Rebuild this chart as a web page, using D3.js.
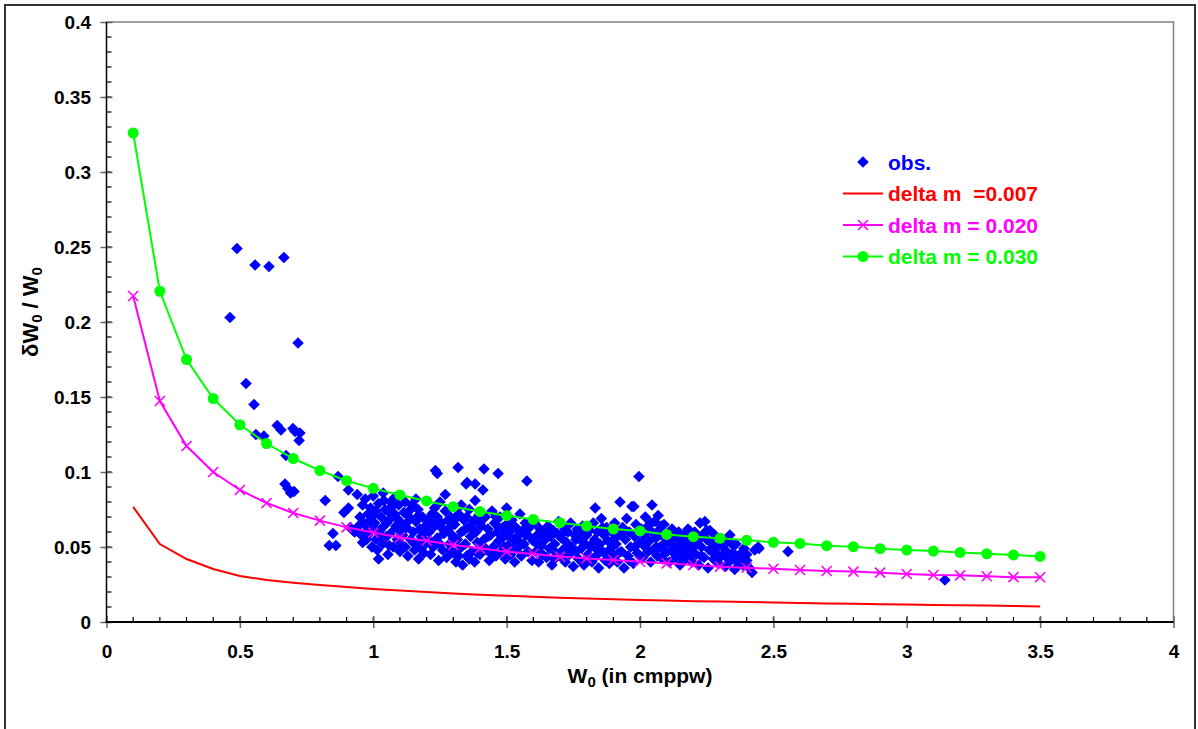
<!DOCTYPE html>
<html><head><meta charset="utf-8">
<script src="https://cdn.jsdelivr.net/npm/d3@7"></script>
<style>html,body{margin:0;padding:0;background:#fff;}svg{display:block;font-family:"Liberation Sans",Arial,sans-serif;}</style>
</head><body>
<svg id="chart" width="1198" height="729"></svg>
<script>
// ---------- data ----------
const xTickValues = [0, 0.5, 1, 1.5, 2, 2.5, 3, 3.5, 4];
const xTickLabels = ["0", "0.5", "1", "1.5", "2", "2.5", "3", "3.5", "4"];
const yTickValues = [0, 0.05, 0.1, 0.15, 0.2, 0.25, 0.3, 0.35, 0.4];
const yTickLabels = ["0", "0.05", "0.1", "0.15", "0.2", "0.25", "0.3", "0.35", "0.4"];

const curveX = [0.1,0.2,0.3,0.4,0.5,0.6,0.7,0.8,0.9,1.0,1.1,1.2,1.3,1.4,1.5,1.6,1.7,1.8,1.9,2.0,
  2.1,2.2,2.3,2.4,2.5,2.6,2.7,2.8,2.9,3.0,3.1,3.2,3.3,3.4,3.5];
const dm007 = [0.0767,0.052,0.042,0.0353,0.0307,0.028,0.0262,0.0247,0.0233,0.022,0.021,0.02,0.019,0.0182,
  0.0175,0.0168,0.0162,0.0157,0.0152,0.0147,0.0143,0.0139,0.0136,0.0133,0.013,0.0127,0.0124,0.0121,0.0119,
  0.0116,0.0114,0.0112,0.011,0.0107,0.0104];
const dm020 = [0.2173,0.1473,0.1173,0.1,0.088,0.0793,0.0727,0.0676,0.0631,0.0596,0.0564,0.0542,0.0513,0.0491,
  0.0469,0.0453,0.0436,0.0424,0.0413,0.0402,0.0391,0.038,0.0369,0.0362,0.0355,0.0347,0.034,0.0336,0.0329,
  0.032,0.0313,0.0311,0.0305,0.0299,0.0298];
const dm030 = [0.326,0.2205,0.175,0.149,0.1315,0.119,0.109,0.101,0.0942,0.0891,0.0847,0.0807,0.0769,0.0736,
  0.0709,0.0684,0.0662,0.064,0.062,0.0607,0.0584,0.0569,0.0558,0.0545,0.0531,0.0524,0.0509,0.0502,0.0489,
  0.048,0.0473,0.0464,0.0455,0.0447,0.0437];

const obs = [
 [0.463,0.203],[0.489,0.249],[0.523,0.159],[0.553,0.145],[0.557,0.238],[0.56,0.125],[0.59,0.124],[0.609,0.237],
 [0.64,0.131],[0.654,0.128],[0.665,0.243],[0.673,0.111],[0.669,0.092],[0.68,0.089],[0.69,0.086],[0.699,0.129],
 [0.703,0.087],[0.707,0.127],[0.718,0.186],[0.722,0.121],[0.725,0.126],
 [0.82,0.081],[0.835,0.051],[0.849,0.059],[0.86,0.051],[0.868,0.097],[0.89,0.073],[0.907,0.088],[0.913,0.063],
 [0.93,0.06],[0.907,0.076],[0.925,0.061],
 [0.94,0.085],[0.95,0.07],[0.955,0.058],[0.96,0.078],[0.965,0.066],[0.97,0.082],[0.975,0.055],[0.98,0.072],
 [0.985,0.062],[0.99,0.076],[0.995,0.05],[0.945,0.064],[0.96,0.053],[0.97,0.06],[0.99,0.068],
 [1.0,0.084],[1.005,0.066],[1.01,0.055],[1.01,0.074],[1.015,0.048],[1.02,0.079],[1.025,0.061],[1.03,0.07],
 [1.035,0.052],[1.037,0.086],[1.04,0.064],[1.045,0.075],[1.05,0.057],[1.055,0.045],[1.06,0.068],[1.065,0.08],
 [1.07,0.06],[1.075,0.05],[1.08,0.072],[1.085,0.064],[1.09,0.055],[1.095,0.078],[1.1,0.047],[1.02,0.042],
 [1.06,0.073],[1.08,0.083],
 [1.105,0.066],[1.11,0.058],[1.115,0.073],[1.12,0.05],[1.125,0.063],[1.13,0.044],[1.135,0.07],[1.14,0.055],
 [1.145,0.078],[1.15,0.06],[1.155,0.048],[1.16,0.067],[1.165,0.052],[1.168,0.075],[1.17,0.042],[1.175,0.062],
 [1.18,0.057],[1.185,0.07],[1.19,0.046],[1.195,0.064],[1.12,0.08],[1.16,0.082],
 [1.2,0.053],[1.205,0.068],[1.21,0.06],[1.215,0.045],[1.22,0.072],[1.225,0.05],[1.23,0.064],[1.233,0.101],
 [1.24,0.099],[1.24,0.056],[1.245,0.041],[1.25,0.08],[1.255,0.066],[1.26,0.048],[1.265,0.059],[1.27,0.074],
 [1.275,0.043],[1.28,0.062],[1.285,0.052],[1.29,0.07],[1.295,0.058],[1.3,0.046],[1.23,0.076],[1.27,0.085],
 [1.305,0.065],[1.31,0.04],[1.315,0.055],[1.318,0.103],[1.32,0.072],[1.325,0.049],[1.33,0.06],[1.335,0.038],
 [1.34,0.068],[1.345,0.052],[1.348,0.092],[1.35,0.044],[1.352,0.093],[1.355,0.063],[1.36,0.075],[1.365,0.057],
 [1.37,0.047],[1.375,0.067],[1.38,0.04],[1.382,0.092],[1.385,0.06],[1.39,0.053],[1.395,0.071],[1.4,0.045],
 [1.382,0.081],[1.33,0.078],
 [1.405,0.064],[1.411,0.088],[1.415,0.102],[1.415,0.055],[1.42,0.07],[1.425,0.048],[1.43,0.062],[1.435,0.041],
 [1.44,0.058],[1.445,0.074],[1.45,0.05],[1.455,0.066],[1.46,0.044],[1.465,0.06],[1.468,0.099],[1.47,0.054],
 [1.475,0.07],[1.48,0.047],[1.485,0.063],[1.49,0.057],[1.495,0.042],[1.5,0.076],[1.5,0.065],
 [1.505,0.051],[1.51,0.06],[1.515,0.045],[1.52,0.068],[1.525,0.055],[1.53,0.04],[1.535,0.063],[1.54,0.049],
 [1.545,0.058],[1.55,0.072],[1.555,0.044],[1.56,0.061],[1.565,0.052],[1.57,0.066],[1.576,0.094],[1.58,0.047],
 [1.585,0.057],[1.59,0.064],[1.595,0.041],[1.6,0.054],
 [1.605,0.066],[1.61,0.047],[1.615,0.058],[1.62,0.04],[1.625,0.062],[1.63,0.051],[1.635,0.045],[1.64,0.06],
 [1.645,0.055],[1.65,0.043],[1.655,0.064],[1.66,0.049],[1.665,0.057],[1.67,0.038],[1.675,0.061],[1.68,0.052],
 [1.685,0.046],[1.69,0.059],[1.695,0.067],[1.7,0.044],
 [1.705,0.056],[1.71,0.048],[1.715,0.063],[1.72,0.04],[1.725,0.053],[1.73,0.06],[1.735,0.045],[1.74,0.066],
 [1.745,0.05],[1.75,0.037],[1.755,0.058],[1.76,0.047],[1.765,0.062],[1.77,0.042],[1.775,0.055],[1.78,0.049],
 [1.785,0.064],[1.79,0.038],[1.795,0.052],[1.8,0.058],
 [1.805,0.045],[1.81,0.061],[1.815,0.05],[1.82,0.04],[1.825,0.066],[1.83,0.055],[1.832,0.076],[1.835,0.044],
 [1.84,0.06],[1.845,0.036],[1.85,0.052],[1.855,0.069],[1.86,0.047],[1.865,0.058],[1.87,0.041],[1.875,0.063],
 [1.88,0.054],[1.885,0.039],[1.89,0.049],[1.895,0.06],[1.9,0.045],
 [1.905,0.066],[1.91,0.052],[1.915,0.04],[1.92,0.058],[1.925,0.08],[1.93,0.047],[1.935,0.063],[1.94,0.036],
 [1.945,0.055],[1.95,0.069],[1.955,0.044],[1.96,0.06],[1.965,0.05],[1.97,0.077],[1.975,0.039],[1.98,0.057],
 [1.985,0.065],[1.99,0.046],[1.996,0.097],[2.0,0.053],[1.977,0.077],
 [2.005,0.062],[2.01,0.043],[2.015,0.058],[2.02,0.07],[2.025,0.049],[2.03,0.064],[2.035,0.054],[2.04,0.04],
 [2.045,0.078],[2.045,0.06],[2.05,0.047],[2.055,0.067],[2.06,0.056],[2.065,0.044],[2.068,0.071],[2.07,0.061],
 [2.075,0.05],[2.08,0.058],[2.085,0.042],[2.09,0.065],[2.095,0.053],[2.1,0.047],
 [2.105,0.058],[2.11,0.04],[2.115,0.052],[2.12,0.062],[2.125,0.046],[2.13,0.056],[2.135,0.043],[2.14,0.05],
 [2.145,0.06],[2.15,0.038],[2.155,0.054],[2.16,0.047],[2.165,0.058],[2.17,0.042],[2.175,0.051],[2.18,0.062],
 [2.185,0.045],[2.19,0.055],[2.195,0.04],[2.2,0.05],
 [2.205,0.06],[2.21,0.045],[2.215,0.054],[2.22,0.038],[2.225,0.066],[2.23,0.05],[2.235,0.058],[2.24,0.043],
 [2.243,0.067],[2.25,0.055],[2.255,0.036],[2.26,0.048],[2.262,0.061],[2.27,0.052],[2.275,0.042],[2.28,0.058],
 [2.285,0.046],[2.29,0.05],[2.295,0.039],[2.3,0.055],
 [2.305,0.044],[2.31,0.05],[2.32,0.037],[2.325,0.047],[2.33,0.054],[2.337,0.058],[2.34,0.041],[2.35,0.046],
 [2.355,0.035],[2.36,0.052],[2.37,0.043],[2.38,0.046],[2.385,0.038],[2.39,0.049],[2.4,0.041],[2.41,0.036],
 [2.42,0.033],[2.43,0.048],[2.446,0.049],[2.443,0.05],
 [2.555,0.047],[3.143,0.028],
 // extra dense-core points
 [0.98,0.058],[1.0,0.071],[1.01,0.062],[1.03,0.058],[1.04,0.081],[1.05,0.066],[1.06,0.051],[1.07,0.077],
 [1.09,0.069],[1.1,0.06],[1.11,0.051],[1.13,0.067],[1.14,0.075],[1.15,0.053],[1.17,0.071],[1.18,0.049],
 [1.19,0.059],[1.21,0.054],[1.22,0.066],[1.24,0.07],[1.25,0.052],[1.26,0.062],[1.28,0.068],[1.29,0.048],
 [1.3,0.056],[1.31,0.069],[1.32,0.044],[1.34,0.061],[1.35,0.07],[1.36,0.042],[1.37,0.063],[1.39,0.046],
 [1.4,0.066],[1.41,0.051],[1.43,0.057],[1.44,0.046],[1.46,0.07],[1.47,0.063],[1.49,0.05],[1.5,0.058],
 [1.52,0.062],[1.53,0.05],[1.55,0.053],[1.57,0.058],[1.58,0.062],[1.61,0.053],[1.63,0.057],[1.66,0.061],
 [1.68,0.042],[1.71,0.059],[1.73,0.05],[1.76,0.055],[1.78,0.061],[1.8,0.042],[1.82,0.052],[1.84,0.048],
 [1.86,0.063],[1.88,0.044],[1.9,0.055],[1.92,0.046],[1.94,0.061],[1.96,0.041],[1.98,0.05],[2.0,0.044],
 [2.01,0.052],[2.03,0.047],[2.04,0.066],[2.06,0.05],[2.08,0.064],[2.09,0.045],[2.11,0.055],[2.13,0.049],
 [2.15,0.045],[2.17,0.056],[2.19,0.048],[2.21,0.057],[2.23,0.044],[2.25,0.061],[2.27,0.047],[2.29,0.043],
 [2.31,0.055],[2.33,0.042],[2.35,0.051],[2.37,0.039],[2.4,0.045]
];

const legendItems = [
  {label: "obs.", color: "#0000FF", kind: "diamond"},
  {label: "delta m  =0.007", color: "#FF0000", kind: "line"},
  {label: "delta m = 0.020", color: "#FF00FF", kind: "cross"},
  {label: "delta m = 0.030", color: "#00FF00", kind: "circle"}
];

// ---------- layout ----------
const svg = d3.select("#chart");
const X0 = 106.5, X1 = 1173.5, Y0 = 622, Y1 = 22;
const x = d3.scaleLinear().domain([0, 4]).range([X0, X1]);
const y = d3.scaleLinear().domain([0, 0.4]).range([Y0, Y1]);

// outer frame
svg.append("rect").attr("x", 5).attr("y", 5).attr("width", 1190).attr("height", 740)
  .attr("fill", "none").attr("stroke", "#333").attr("stroke-width", 2);

// plot border (top & right)
svg.append("path").attr("d", `M${X0},${Y1}H${X1}V${Y0}`).attr("fill", "none")
  .attr("stroke", "#808080").attr("stroke-width", 1.5);

// minor ticks
const minorY = d3.range(1, 40).map(i => i / 100);
svg.append("g").selectAll("line").data(minorY).join("line")
  .attr("x1", X0).attr("x2", X0 + 5).attr("y1", d => y(d)).attr("y2", d => y(d))
  .attr("stroke", "#000").attr("stroke-width", 1.2);
const minorX = d3.range(1, 40).map(i => i / 10);
svg.append("g").selectAll("line").data(minorX).join("line")
  .attr("x1", d => x(d)).attr("x2", d => x(d)).attr("y1", Y0).attr("y2", Y0 - 5)
  .attr("stroke", "#000").attr("stroke-width", 1.2);

// axes
const gy = svg.append("g").attr("transform", `translate(${X0},0)`)
  .call(d3.axisLeft(y).tickValues(yTickValues).tickFormat((d, i) => yTickLabels[i]).tickSize(6).tickPadding(9.5));
gy.select(".domain").remove();
gy.selectAll(".tick line").attr("x1", 6).attr("stroke", "#666").attr("stroke-width", 1.5);
gy.selectAll(".tick text").attr("font-size", 19).attr("font-weight", "bold").attr("fill", "#000")
  .attr("font-family", "Liberation Sans, Arial, sans-serif");

const gx = svg.append("g").attr("transform", `translate(0,${Y0})`)
  .call(d3.axisBottom(x).tickValues(xTickValues).tickFormat((d, i) => xTickLabels[i]).tickSize(6).tickPadding(17));
gx.select(".domain").remove();
gx.selectAll(".tick line").attr("y1", -6).attr("stroke", "#666").attr("stroke-width", 1.5);
gx.selectAll(".tick text").attr("font-size", 19).attr("font-weight", "bold").attr("fill", "#000")
  .attr("font-family", "Liberation Sans, Arial, sans-serif");

// axis lines
svg.append("line").attr("x1", X0).attr("x2", X0).attr("y1", Y1).attr("y2", Y0)
  .attr("stroke", "#000").attr("stroke-width", 1.5);
svg.append("line").attr("x1", X0 - 1).attr("x2", X1).attr("y1", Y0).attr("y2", Y0)
  .attr("stroke", "#000").attr("stroke-width", 2);

// obs diamonds
const diamond = "M0,-5.8L5.8,0L0,5.8L-5.8,0Z";
svg.append("g").selectAll("path").data(obs).join("path")
  .attr("d", diamond).attr("transform", d => `translate(${x(d[0])},${y(d[1])})`)
  .attr("fill", "#0000FF");

// curves
const line = d3.line().x(d => x(d[0])).y(d => y(d[1]));
const series = [
  {vals: dm007, color: "#FF0000", kind: "line"},
  {vals: dm020, color: "#FF00FF", kind: "cross"},
  {vals: dm030, color: "#00FF00", kind: "circle"}
];
const crossPath = "M-5,-5L5,5M-5,5L5,-5";
series.forEach(s => {
  const pts = curveX.map((cx, i) => [cx, s.vals[i]]);
  svg.append("path").datum(pts).attr("d", line).attr("fill", "none")
    .attr("stroke", s.color).attr("stroke-width", 2);
  if (s.kind === "cross") {
    svg.append("g").selectAll("path").data(pts).join("path")
      .attr("d", crossPath).attr("transform", d => `translate(${x(d[0])},${y(d[1])})`)
      .attr("stroke", s.color).attr("stroke-width", 1.6).attr("fill", "none");
  } else if (s.kind === "circle") {
    svg.append("g").selectAll("circle").data(pts).join("circle")
      .attr("cx", d => x(d[0])).attr("cy", d => y(d[1])).attr("r", 5.5).attr("fill", s.color);
  }
});

// legend
const lg = svg.append("g");
legendItems.forEach((it, i) => {
  const cy = 162 + i * 31.5;
  const g = lg.append("g");
  if (it.kind === "diamond") {
    g.append("path").attr("d", diamond).attr("transform", `translate(863,${cy})`).attr("fill", it.color);
  } else {
    g.append("line").attr("x1", 843).attr("x2", 883).attr("y1", cy).attr("y2", cy)
      .attr("stroke", it.color).attr("stroke-width", 2);
    if (it.kind === "cross") g.append("path").attr("d", crossPath).attr("transform", `translate(863,${cy})`)
      .attr("stroke", it.color).attr("stroke-width", 1.6);
    if (it.kind === "circle") g.append("circle").attr("cx", 863).attr("cy", cy).attr("r", 5.5).attr("fill", it.color);
  }
  g.append("text").attr("x", 888).attr("y", cy + 7.5).text(it.label)
    .attr("fill", it.color).attr("font-size", 21).attr("font-weight", "bold")
    .style("white-space", "pre");
});

// axis titles
const xt = svg.append("text").attr("x", 640).attr("y", 683).attr("text-anchor", "middle")
  .attr("font-size", 21).attr("font-weight", "bold").attr("fill", "#000");
xt.append("tspan").text("W");
xt.append("tspan").text("0").attr("font-size", 15).attr("dy", 4);
xt.append("tspan").text(" (in cmppw)").attr("dy", -4);

const yt = svg.append("text").attr("transform", "translate(38,312) rotate(-90)").attr("text-anchor", "middle")
  .attr("font-size", 22).attr("font-weight", "bold").attr("fill", "#000");
yt.append("tspan").text("δW");
yt.append("tspan").text("0").attr("font-size", 15).attr("dy", 4);
yt.append("tspan").text(" / W").attr("dy", -4);
yt.append("tspan").text("0").attr("font-size", 15).attr("dy", 4);
</script>
</body></html>
